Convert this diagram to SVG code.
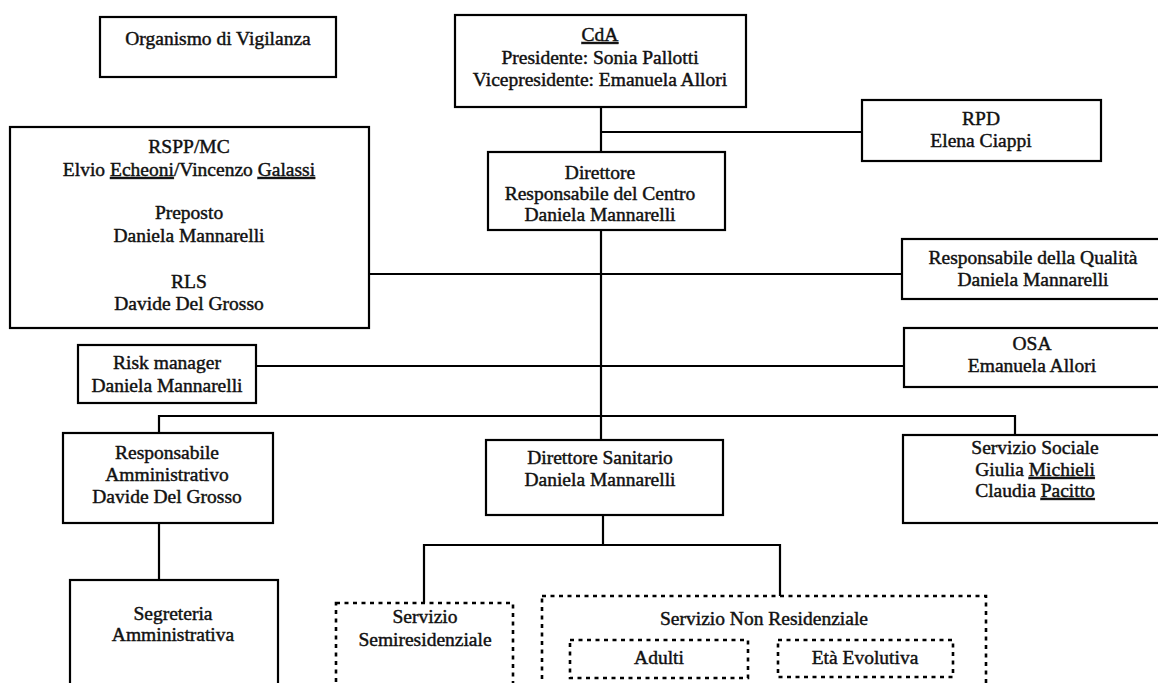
<svg xmlns="http://www.w3.org/2000/svg" width="1158" height="683" viewBox="0 0 1158 683">
<style>
  .box { fill: #ffffff; stroke: #000000; stroke-width: 2.2; }
  .dash { fill: none; stroke: #000000; stroke-width: 2.6; stroke-dasharray: 4 4.5; }
  .line { fill: none; stroke: #000000; stroke-width: 2.2; }
  text { font-family: "Liberation Serif", "Times New Roman", serif; font-size: 19.5px; fill: #111111; stroke: #111111; stroke-width: 0.45; text-anchor: middle; }
  .u { text-decoration: underline; }
</style>
<rect x="0" y="0" width="1158" height="683" fill="#ffffff"/>

<g id="connectors">
  <path class="line" d="M601 107 V440"/>
  <path class="line" d="M601 132 H862"/>
  <path class="line" d="M369 274 H902"/>
  <path class="line" d="M256 366 H904"/>
  <path class="line" d="M159 433 V416 H1015 V435"/>
  <path class="line" d="M159 523 V580"/>
  <path class="line" d="M603 515 V545"/>
  <path class="line" d="M424 603 V545 H780 V596"/>
</g>

<g id="organismo">
  <rect class="box" x="100" y="17" width="236" height="60"/>
  <text x="218" y="45">Organismo di Vigilanza</text>
</g>

<g id="cda">
  <rect class="box" x="455" y="15" width="291" height="92"/>
  <text x="600" y="41"><tspan class="u">CdA</tspan></text>
  <text x="600" y="64">Presidente: Sonia Pallotti</text>
  <text x="600" y="86">Vicepresidente: Emanuela Allori</text>
</g>

<g id="rpd">
  <rect class="box" x="862" y="100" width="239" height="61"/>
  <text x="981" y="125">RPD</text>
  <text x="981" y="147">Elena Ciappi</text>
</g>

<g id="direttore">
  <rect class="box" x="488" y="152" width="237" height="78"/>
  <text x="600" y="179">Direttore</text>
  <text x="600" y="200">Responsabile del Centro</text>
  <text x="600" y="221">Daniela Mannarelli</text>
</g>

<g id="rspp">
  <rect class="box" x="10" y="127" width="359" height="201"/>
  <text x="189" y="153">RSPP/MC</text>
  <text x="189" y="176">Elvio <tspan class="u">Echeoni</tspan>/Vincenzo <tspan class="u">Galassi</tspan></text>
  <text x="189" y="219">Preposto</text>
  <text x="189" y="242">Daniela Mannarelli</text>
  <text x="189" y="288">RLS</text>
  <text x="189" y="310">Davide Del Grosso</text>
</g>

<g id="qualita">
  <rect class="box" x="902" y="239" width="266" height="60"/>
  <text x="1033" y="264">Responsabile della Qualità</text>
  <text x="1033" y="286">Daniela Mannarelli</text>
</g>

<g id="osa">
  <rect class="box" x="904" y="328" width="264" height="59"/>
  <text x="1032" y="350">OSA</text>
  <text x="1032" y="372">Emanuela Allori</text>
</g>

<g id="risk">
  <rect class="box" x="78" y="345" width="178" height="58"/>
  <text x="167" y="369">Risk manager</text>
  <text x="167" y="392">Daniela Mannarelli</text>
</g>

<g id="resp-amm">
  <rect class="box" x="63" y="433" width="210" height="90"/>
  <text x="167" y="459">Responsabile</text>
  <text x="167" y="481">Amministrativo</text>
  <text x="167" y="503">Davide Del Grosso</text>
</g>

<g id="dir-sanitario">
  <rect class="box" x="486" y="440" width="237" height="75"/>
  <text x="600" y="464">Direttore Sanitario</text>
  <text x="600" y="486">Daniela Mannarelli</text>
</g>

<g id="servizio-sociale">
  <rect class="box" x="903" y="435" width="265" height="88"/>
  <text x="1035" y="454">Servizio Sociale</text>
  <text x="1035" y="476">Giulia <tspan class="u">Michieli</tspan></text>
  <text x="1035" y="497">Claudia <tspan class="u">Pacitto</tspan></text>
</g>

<g id="segreteria">
  <rect class="box" x="70" y="580" width="208" height="115"/>
  <text x="173" y="620">Segreteria</text>
  <text x="173" y="641">Amministrativa</text>
</g>

<g id="semiresidenziale">
  <rect class="dash" x="336" y="603" width="177" height="92"/>
  <text x="425" y="623">Servizio</text>
  <text x="425" y="646">Semiresidenziale</text>
</g>

<g id="non-residenziale">
  <rect class="dash" x="542" y="596" width="444" height="99"/>
  <text x="764" y="625">Servizio Non Residenziale</text>
</g>

<g id="adulti">
  <rect class="dash" x="570" y="640" width="178" height="38"/>
  <text x="659" y="664">Adulti</text>
</g>

<g id="eta-evolutiva">
  <rect class="dash" x="778" y="640" width="175" height="37"/>
  <text x="865" y="664">Età Evolutiva</text>
</g>
</svg>
